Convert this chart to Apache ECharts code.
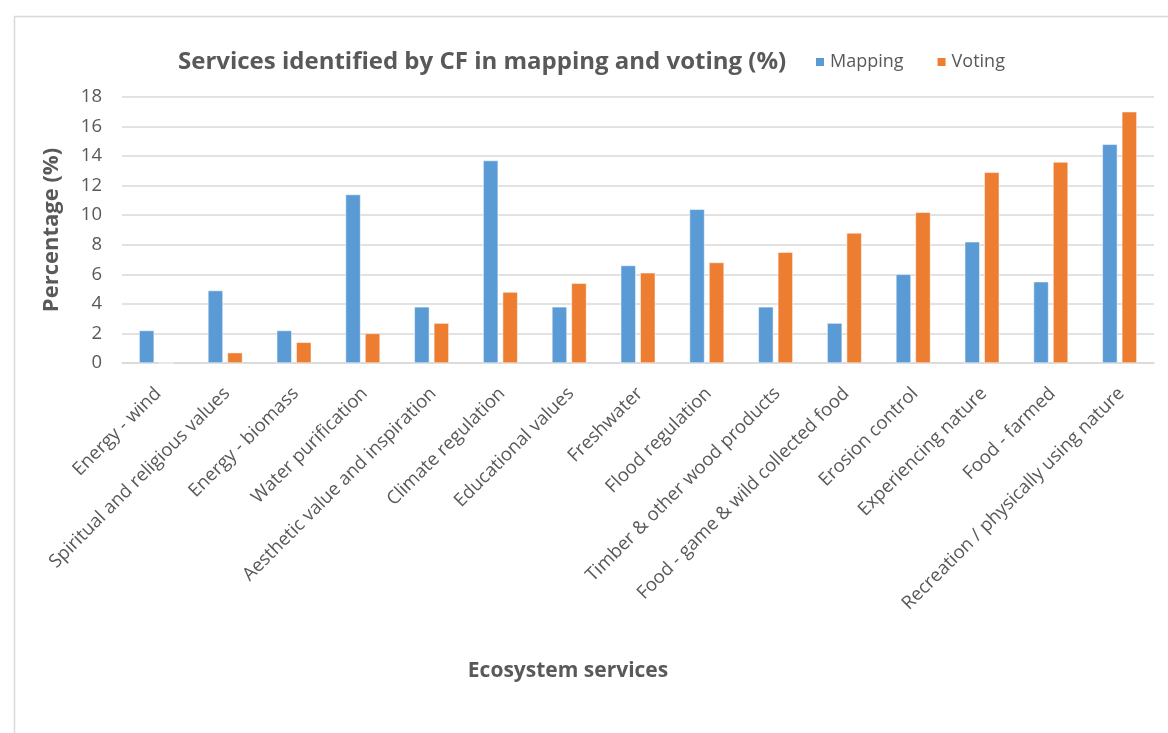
<!DOCTYPE html>
<html>
<head>
<meta charset="utf-8">
<script src="https://cdn.jsdelivr.net/npm/echarts@6/dist/echarts.min.js"></script>
<style>
html,body{margin:0;padding:0;background:#fff;}
#chart{width:1168px;height:733px;}
</style>
</head>
<body>
<div id="chart"></div>
<script>
const categories = [
  "Energy - wind",
  "Spiritual and religious values",
  "Energy - biomass",
  "Water purification",
  "Aesthetic value and inspiration",
  "Climate regulation",
  "Educational values",
  "Freshwater",
  "Flood regulation",
  "Timber & other wood products",
  "Food - game & wild collected food",
  "Erosion control",
  "Experiencing nature",
  "Food - farmed",
  "Recreation / physically using nature"
];
const mapping = [2.2, 4.9, 2.2, 11.4, 3.8, 13.7, 3.8, 6.6, 10.4, 3.8, 2.7, 6.0, 8.2, 5.5, 14.8];
const voting  = [0,   0.7, 1.4, 2.0,  2.7, 4.8,  5.4, 6.1, 6.8,  7.5, 8.8, 10.2, 12.9, 13.6, 17.0];
const yTicks = [0, 2, 4, 6, 8, 10, 12, 14, 16, 18];

const chart = echarts.init(document.getElementById('chart'));
const font = '"Open Sans", "Noto Sans", sans-serif';
chart.setOption({
  backgroundColor: '#ffffff',
  textStyle: { fontFamily: font },
  graphic: [{
    type: 'rect', left: 12, top: 14, silent: true,
    shape: { width: 1200, height: 800 },
    style: { fill: 'none', stroke: '#D9D9D9', lineWidth: 1.5 }
  }],
  title: {
    text: 'Services identified by CF in mapping and voting (%)',
    left: 173, top: 45,
    textStyle: { fontFamily: font, fontSize: 24, fontWeight: 'bold', color: '#595959' }
  },
  legend: {
    left: 809, top: 48,
    itemWidth: 10, itemHeight: 10, itemGap: 32,
    icon: 'rect',
    textStyle: { fontFamily: font, fontSize: 18, color: '#595959' },
    data: ['Mapping', 'Voting']
  },
  grid: { left: 122, right: 14, top: 97, bottom: 370 },
  xAxis: {
    type: 'category',
    data: categories,
    name: 'Ecosystem services',
    nameLocation: 'middle',
    nameGap: 298,
    nameTextStyle: { fontFamily: font, fontSize: 21, fontWeight: 'bold', color: '#595959', padding: [0, 140, 0, 0] },
    axisLine: { lineStyle: { color: '#D9D9D9', width: 1.5 } },
    axisTick: { show: false },
    axisLabel: { interval: 0, rotate: 45, fontSize: 18.5, color: '#595959', margin: 16,
      align: 'right', verticalAlign: 'top', padding: [0, 7, 0, 0], fontFamily: font }
  },
  yAxis: {
    type: 'value',
    min: 0, max: 18, interval: 2,
    name: 'Percentage (%)',
    nameLocation: 'middle',
    nameGap: 59,
    nameTextStyle: { fontFamily: font, fontSize: 22, fontWeight: 'bold', color: '#595959' },
    axisLine: { show: false },
    axisTick: { show: false },
    axisLabel: { fontSize: 18.5, color: '#595959', margin: 20, fontFamily: font,
      formatter: v => yTicks.includes(v) ? String(v) : '' },
    splitLine: { lineStyle: { color: '#D9D9D9', width: 1.5 } }
  },
  series: [
    { name: 'Mapping', type: 'bar', data: mapping, barWidth: 15, barGap: '30%',
      itemStyle: { color: '#5B9BD5', borderColor: '#ffffff', borderWidth: 0.5 } },
    { name: 'Voting', type: 'bar', data: voting, barWidth: 15, barGap: '30%',
      itemStyle: { color: '#ED7D31', borderColor: '#ffffff', borderWidth: 0.5 } }
  ]
});
</script>
</body>
</html>
